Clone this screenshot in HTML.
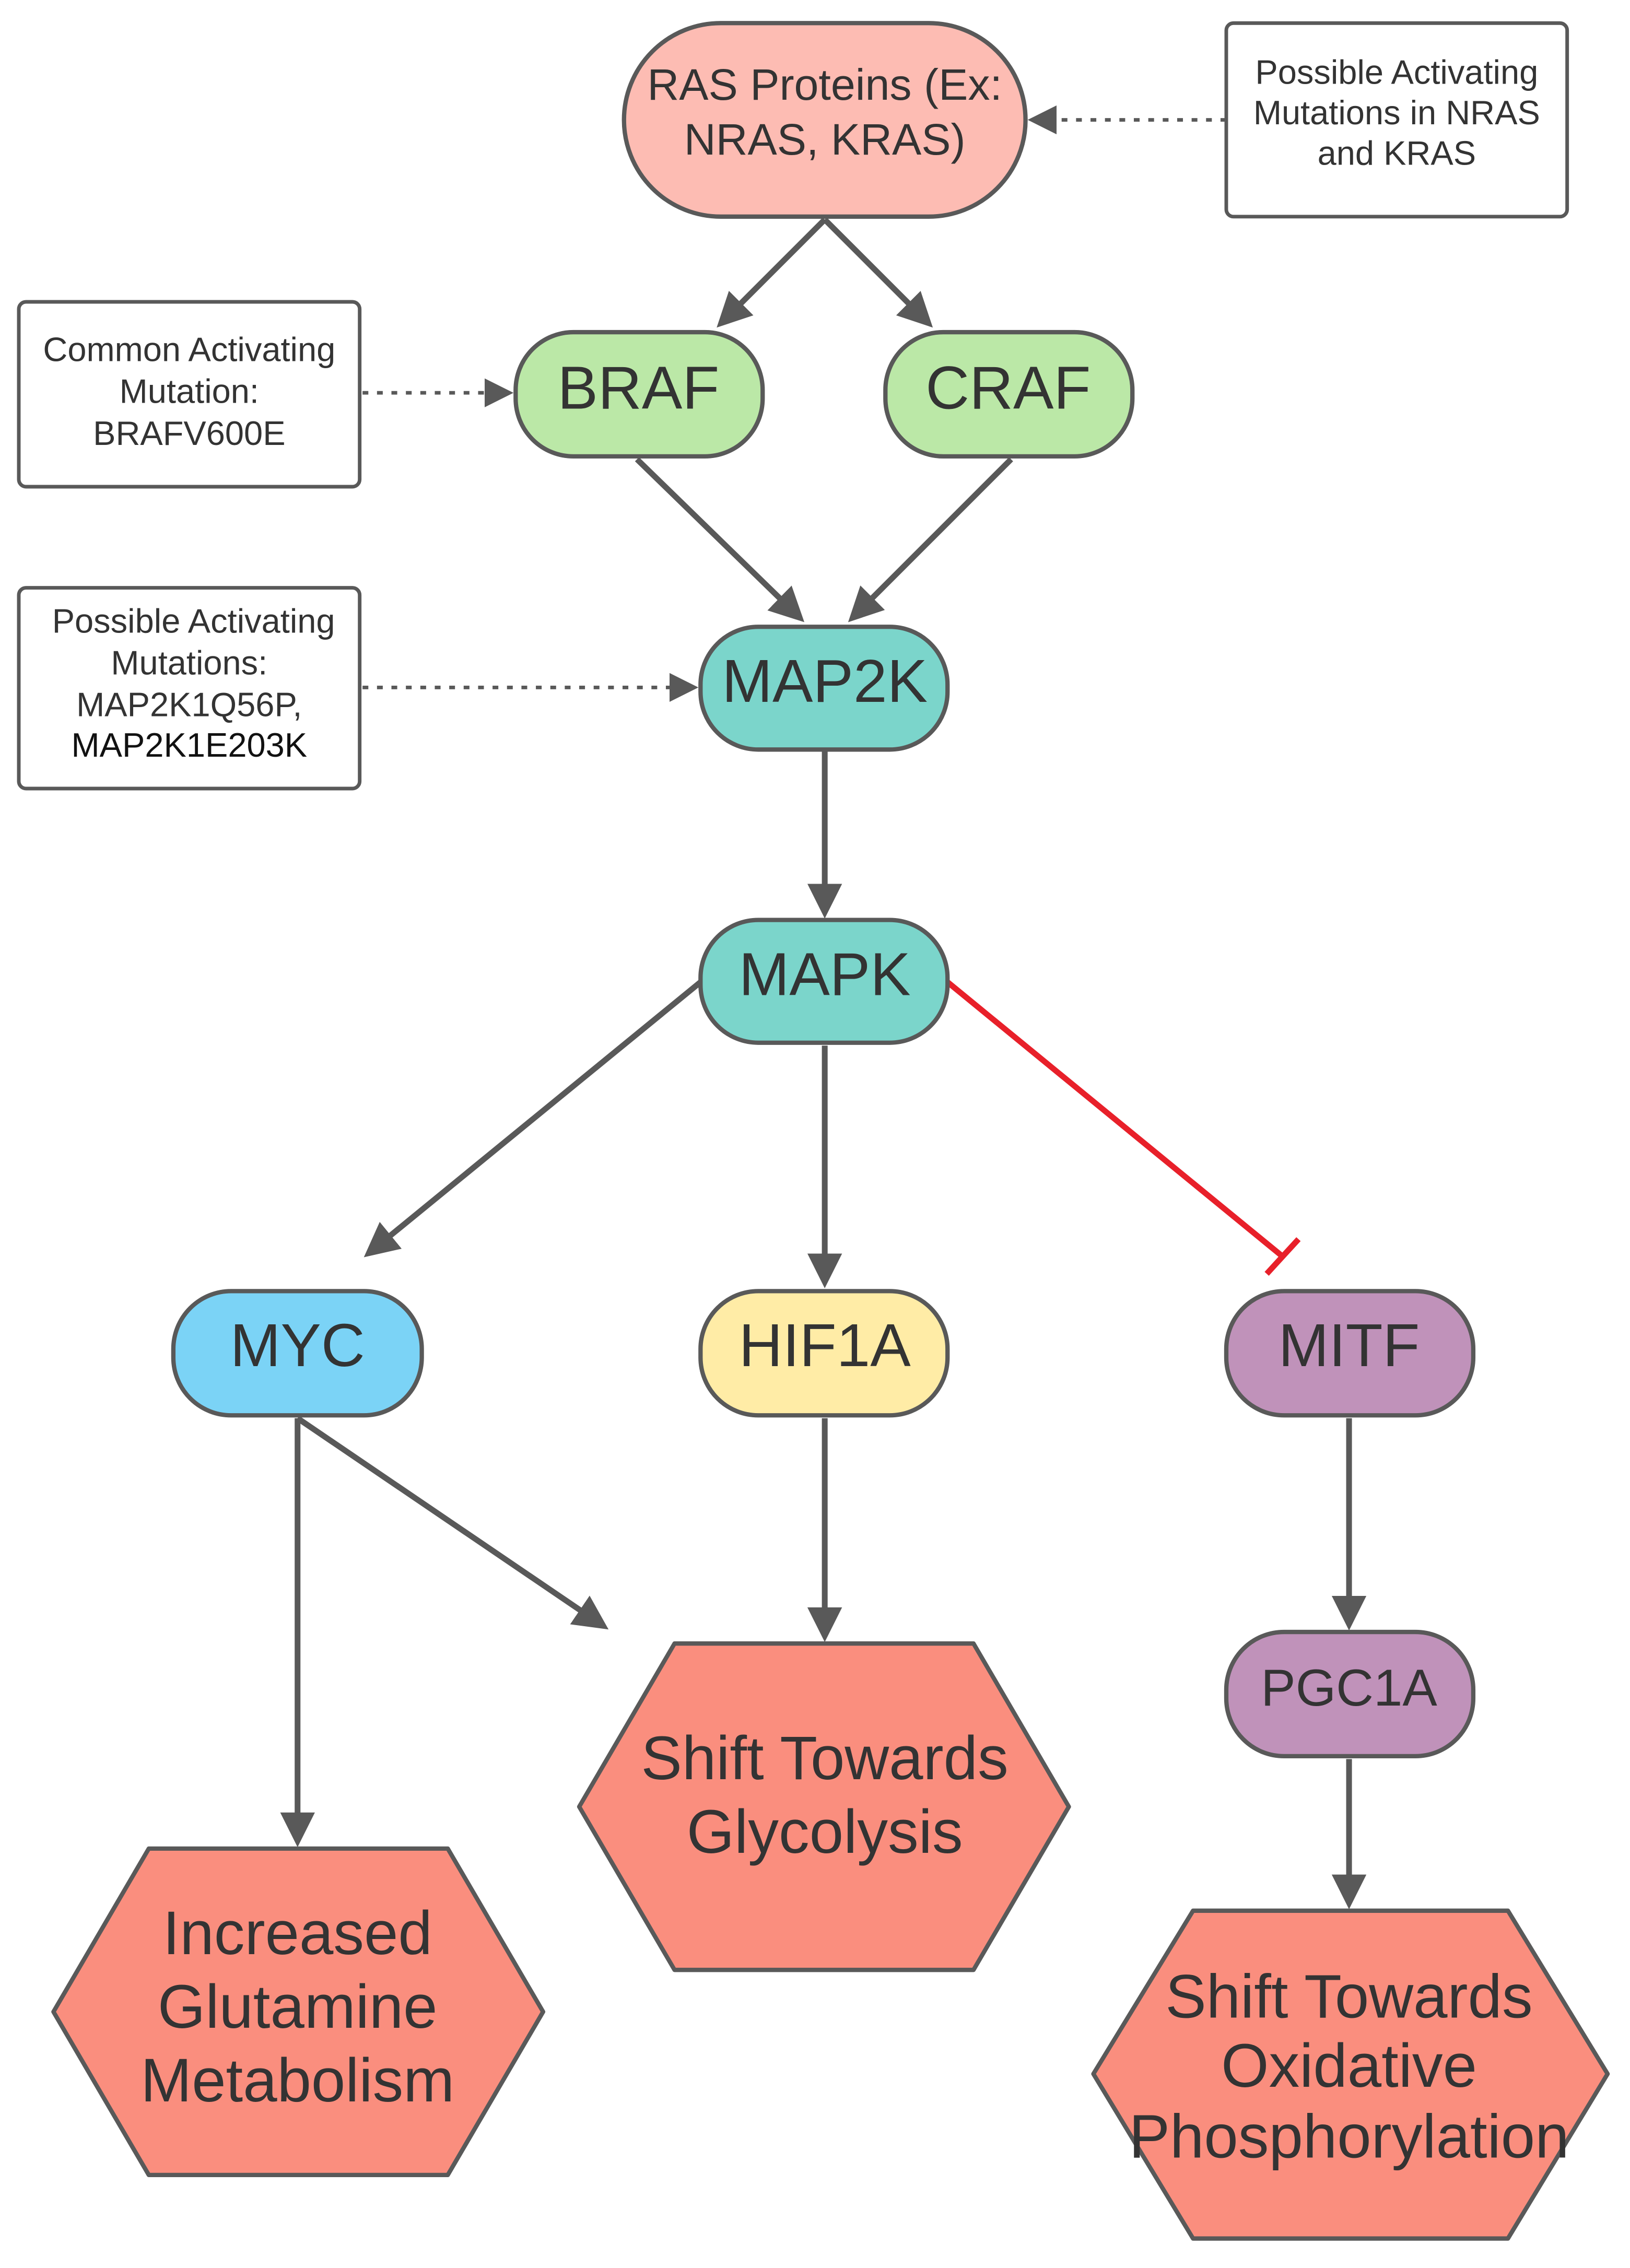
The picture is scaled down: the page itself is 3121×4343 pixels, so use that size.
<!DOCTYPE html>
<html><head><meta charset="utf-8"><style>
html,body{margin:0;padding:0;background:#fff;}
svg{display:block;}
text{font-family:"Liberation Sans",sans-serif;fill:#333;text-anchor:middle;}
</style></head><body>
<svg width="3121" height="4343" viewBox="0 0 1128.5 1570.4" xmlns="http://www.w3.org/2000/svg">
<defs>
<marker id="a" markerWidth="6" markerHeight="6" refX="5" refY="3" orient="auto" markerUnits="strokeWidth"><path d="M0,0 L6,3 L0,6 Z" fill="#595959"/></marker>
<marker id="d" markerWidth="8" markerHeight="8" refX="7" refY="4" orient="auto" markerUnits="strokeWidth"><path d="M0,0 L8,4 L0,8 Z" fill="#595959"/></marker>
</defs>
<g stroke="#595959" stroke-width="2.5" fill="#fff">
<rect x="849" y="16" width="236" height="134" rx="5"/>
<rect x="13" y="209" width="236" height="128" rx="5"/>
<rect x="13" y="407" width="236" height="139" rx="5"/>
</g>
<g stroke="#595959" stroke-width="2.5" stroke-dasharray="4,6" fill="none">
<line x1="849" y1="83" x2="714" y2="83" marker-end="url(#d)"/>
<line x1="251" y1="272" x2="353" y2="272" marker-end="url(#d)"/>
<line x1="251" y1="476" x2="481" y2="476" marker-end="url(#d)"/>
</g>
<g stroke="#595959" stroke-width="4" fill="none">
<line x1="571" y1="152" x2="499" y2="224" marker-end="url(#a)"/>
<line x1="571" y1="152" x2="643" y2="224" marker-end="url(#a)"/>
<line x1="441" y1="318" x2="554" y2="428" marker-end="url(#a)"/>
<line x1="700" y1="318" x2="590" y2="428" marker-end="url(#a)"/>
<line x1="571" y1="520" x2="571" y2="632" marker-end="url(#a)"/>
<line x1="485" y1="680" x2="255" y2="868" marker-end="url(#a)"/>
<line x1="571" y1="724" x2="571" y2="888" marker-end="url(#a)"/>
<line x1="206" y1="982" x2="206" y2="1275" marker-end="url(#a)"/>
<line x1="206" y1="982" x2="418" y2="1126" marker-end="url(#a)"/>
<line x1="571" y1="982" x2="571" y2="1133" marker-end="url(#a)"/>
<line x1="934" y1="982" x2="934" y2="1125" marker-end="url(#a)"/>
<line x1="934" y1="1218" x2="934" y2="1318" marker-end="url(#a)"/>
</g>
<line x1="656" y1="680" x2="888" y2="870" stroke="#e8202a" stroke-width="4"/>
<line x1="877" y1="882" x2="899" y2="858" stroke="#e8202a" stroke-width="4"/>
<g stroke="#595959" stroke-width="3">
<rect x="432" y="16" width="278" height="134" rx="67" fill="#fdbcb3"/>
<rect x="357" y="230" width="171" height="86" rx="40" fill="#bbe8a7"/>
<rect x="613" y="230" width="171" height="86" rx="40" fill="#bbe8a7"/>
<rect x="485" y="434" width="171" height="85" rx="40" fill="#7bd5cb"/>
<rect x="485" y="637" width="171" height="85" rx="40" fill="#7bd5cb"/>
<rect x="120" y="894" width="172" height="86" rx="40" fill="#7bd3f6"/>
<rect x="485" y="894" width="171" height="86" rx="40" fill="#ffeca6"/>
<rect x="849" y="894" width="171" height="86" rx="40" fill="#c092ba"/>
<rect x="849" y="1130" width="171" height="86" rx="40" fill="#c092ba"/>
<polygon points="37,1393 103,1280 310,1280 376,1393 310,1506 103,1506" fill="#fa8e7e" stroke-linejoin="round"/>
<polygon points="401,1251 467,1138 674,1138 740,1251 674,1364 467,1364" fill="#fa8e7e" stroke-linejoin="round"/>
<polygon points="757,1436 826,1323 1044,1323 1113,1436 1044,1550 826,1550" fill="#fa8e7e" stroke-linejoin="round"/>
</g>
<g font-size="23.5">
<text x="967" y="58">Possible Activating</text>
<text x="967" y="86">Mutations in NRAS</text>
<text x="967" y="114">and KRAS</text>
<text x="131" y="250">Common Activating</text>
<text x="131" y="279">Mutation:</text>
<text x="131" y="308">BRAFV600E</text>
<text x="134" y="438">Possible Activating</text>
<text x="131" y="467">Mutations:</text>
<text x="131" y="496">MAP2K1Q56P,</text>
<text x="131" y="524" style="fill:#111">MAP2K1E203K</text>
</g>
<text x="571" y="69" font-size="30.5">RAS Proteins (Ex:</text>
<text x="571" y="107" font-size="30.5">NRAS, KRAS)</text>
<g font-size="42">
<text x="442" y="283">BRAF</text>
<text x="698" y="283">CRAF</text>
<text x="571" y="486">MAP2K</text>
<text x="571" y="689">MAPK</text>
<text x="206" y="946">MYC</text>
<text x="571" y="946">HIF1A</text>
<text x="934" y="946">MITF</text>
</g>
<text x="934" y="1181" font-size="36">PGC1A</text>
<g font-size="42.5">
<text x="206" y="1353">Increased</text>
<text x="206" y="1404">Glutamine</text>
<text x="206" y="1455">Metabolism</text>
<text x="571" y="1232">Shift Towards</text>
<text x="571" y="1283">Glycolysis</text>
<text x="934" y="1397">Shift Towards</text>
<text x="934" y="1445">Oxidative</text>
<text x="934" y="1494">Phosphorylation</text>
</g>
</svg>
</body></html>
